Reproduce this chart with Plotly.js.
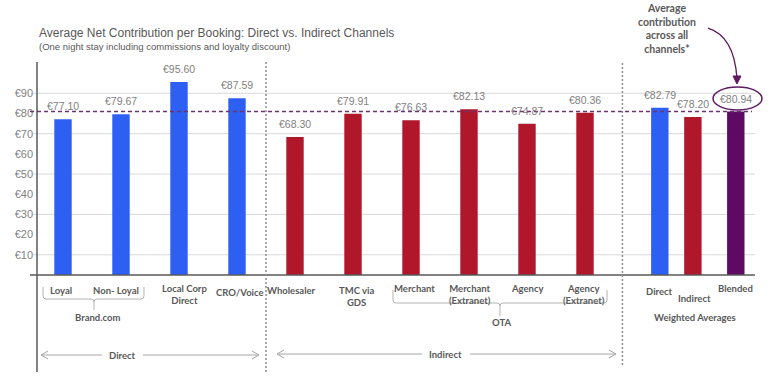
<!DOCTYPE html>
<html>
<head>
<meta charset="utf-8">
<script src="https://cdn.plot.ly/plotly-3.0.1.min.js"></script>
<style>html,body{margin:0;padding:0;background:#fff;}#chart{width:780px;height:386px;}</style>
</head>
<body>
<div id="chart"></div>
<script>
// ---------- data ----------
const categories = ['Loyal', 'Non- Loyal', 'Local Corp<br>Direct', 'CRO/Voice', 'Wholesaler', 'TMC via<br>GDS',
  'Merchant', 'Merchant<br>(Extranet)', 'Agency', 'Agency<br>(Extranet)', 'Direct', 'Indirect', 'Blended'];
const values = [77.10, 79.67, 95.60, 87.59, 68.30, 79.91, 76.63, 82.13, 74.87, 80.36, 82.79, 78.20, 80.94];
const channelType = ['Direct', 'Direct', 'Direct', 'Direct', 'Indirect', 'Indirect', 'Indirect', 'Indirect',
  'Indirect', 'Indirect', 'Direct', 'Indirect', 'Blended'];
const yTicks = [10, 20, 30, 40, 50, 60, 70, 80, 90];
const gridTicks = [10, 30, 50, 70, 90];
const title = 'Average Net Contribution per Booking: Direct vs. Indirect Channels';
const subtitle = '(One night stay including commissions and loyalty discount)';
const callout = 'Average<br>contribution<br>across all<br>channels*';

// ---------- layout helpers (positions / styles) ----------
const slots = [0, 1, 2, 3, 4, 5, 6, 7, 8, 9, 10.29, 10.86, 11.6];
const labelDrop = [8, 8, 6, 10, 8, 8, 6, 6, 6, 6, 9, 16, 6];
const labelShift = [-2, -5, 5, 3, -4, 3, 3, 1, 0, -1, 0, 2, 0];
const colorMap = {Direct: '#2d5ff2', Indirect: '#b0172b', Blended: '#5e0a62'};
const PL = 37, PW = 718, PT = 62, PH = 213;
const px = X => (X - PL) / PW;
const py = Y => (PT + PH - Y) / PH;
const P = (X, Y) => px(X).toFixed(4) + ',' + py(Y).toFixed(4);
const gray = '#595959', lightGray = '#7f7f7f', purple = '#5e1a62';
const labelFont = {family: 'Lato, "Open Sans", sans-serif', size: 9.5, color: gray, weight: 700};
const valueFont = {family: '"Liberation Sans Narrow", "Liberation Sans", Arial, sans-serif', size: 10.5, color: lightGray};

const trace = {
  type: 'bar',
  x: slots,
  y: values,
  width: 0.3,
  marker: {color: channelType.map(t => colorMap[t])},
  hoverinfo: 'skip'
};

const shapes = [];
gridTicks.forEach(v => shapes.push({type: 'line', xref: 'paper', yref: 'y', x0: px(33), x1: 1, y0: v, y1: v,
  line: {color: '#d9d9d9', width: 1}, layer: 'below'}));
// axes
shapes.push({type: 'line', xref: 'paper', yref: 'paper', x0: px(30), x1: px(755), y0: 0, y1: 0, line: {color: gray, width: 1.5}});
shapes.push({type: 'line', xref: 'paper', yref: 'paper', x0: 0, x1: 0, y0: py(372), y1: 1, line: {color: gray, width: 1.5}});
// blended average dashed line
shapes.push({type: 'line', xref: 'paper', yref: 'y', x0: px(30), x1: px(752), y0: values[12], y1: values[12],
  line: {color: '#6b3470', width: 1.5, dash: '4px,3px'}});
// group separators
shapes.push({type: 'line', xref: 'x', yref: 'paper', x0: (slots[3] + slots[4]) / 2, x1: (slots[3] + slots[4]) / 2,
  y0: py(372), y1: 1, line: {color: '#8c8c8c', width: 1.5, dash: '2px,2px'}});
shapes.push({type: 'line', xref: 'x', yref: 'paper', x0: (slots[9] + slots[10]) / 2, x1: (slots[9] + slots[10]) / 2,
  y0: py(365), y1: 1, line: {color: '#8c8c8c', width: 1.5, dash: '2px,2px'}});
// braces
function brace(l, r, top, bot, mid, tip) {
  return 'M ' + P(l, top) + ' L ' + P(l, bot - 3) + ' Q ' + P(l, bot) + ' ' + P(l + 3, bot) +
    ' L ' + P(mid - 3, bot) + ' Q ' + P(mid, bot) + ' ' + P(mid, bot + 3) + ' L ' + P(mid, tip) +
    ' M ' + P(mid, bot + 3) + ' Q ' + P(mid, bot) + ' ' + P(mid + 3, bot) +
    ' L ' + P(r - 3, bot) + ' Q ' + P(r, bot) + ' ' + P(r, bot - 3) + ' L ' + P(r, top);
}
shapes.push({type: 'path', xref: 'paper', yref: 'paper', path: brace(43, 144, 287, 299, 94, 310), line: {color: '#b3b3b3', width: 1}});
shapes.push({type: 'path', xref: 'paper', yref: 'paper', path: brace(393, 607, 290, 303, 500, 316), line: {color: '#b3b3b3', width: 1}});
// span arrows
function span(l, r, y, head) {
  let s = 'M ' + P(l, y) + ' L ' + P(r, y);
  if (head === 'l') s += ' M ' + P(l + 7, y - 4) + ' L ' + P(l, y) + ' L ' + P(l + 7, y + 4);
  if (head === 'r') s += ' M ' + P(r - 7, y - 4) + ' L ' + P(r, y) + ' L ' + P(r - 7, y + 4);
  return {type: 'path', xref: 'paper', yref: 'paper', path: s, line: {color: '#a6a6a6', width: 1}};
}
shapes.push(span(41, 102, 355, 'l'), span(143, 259, 355, 'r'), span(277, 422, 354, 'l'), span(470, 616, 354, 'r'));
// callout ellipse & curved arrow
shapes.push({type: 'circle', xref: 'paper', yref: 'paper', x0: px(713), x1: px(762), y0: py(110), y1: py(87),
  line: {color: purple, width: 1.5}});
shapes.push({type: 'path', xref: 'paper', yref: 'paper', path: 'M ' + P(708, 28) + ' Q ' + P(734, 36) + ' ' + P(737, 78),
  line: {color: purple, width: 1.3}});
shapes.push({type: 'path', xref: 'paper', yref: 'paper', path: 'M ' + P(733, 76) + ' L ' + P(741, 76) + ' L ' + P(737, 84) + ' Z',
  line: {color: purple, width: 1}, fillcolor: purple});

const annotations = [];
// value labels
values.forEach((v, i) => annotations.push({xref: 'x', yref: 'y', x: slots[i], y: v, yshift: 13, yanchor: 'middle',
  text: '€' + v.toFixed(2), showarrow: false, font: valueFont}));
// category labels
categories.forEach((c, i) => annotations.push({xref: 'x', yref: 'paper', x: slots[i], y: 0, yanchor: 'top',
  yshift: -labelDrop[i], xshift: labelShift[i], text: c, showarrow: false, font: labelFont}));
// group labels
const grp = (t, X, Y) => ({xref: 'paper', yref: 'paper', x: px(X), y: py(Y), xanchor: 'center', yanchor: 'middle',
  text: t, showarrow: false, font: labelFont});
annotations.push(grp('Brand.com', 97, 317), grp('OTA', 501, 322), grp('Weighted Averages', 695, 317),
  grp('Direct', 122, 355), grp('Indirect', 446, 354));
// title, subtitle, callout text
annotations.push({xref: 'paper', yref: 'paper', x: px(37), y: py(33), xanchor: 'left', yanchor: 'middle', text: title,
  showarrow: false, font: {family: '"Liberation Sans", Arial, sans-serif', size: 12, color: gray}});
annotations.push({xref: 'paper', yref: 'paper', x: px(37), y: py(46), xanchor: 'left', yanchor: 'middle', text: subtitle,
  showarrow: false, font: {family: '"Liberation Sans", Arial, sans-serif', size: 9.5, color: gray}});
annotations.push({xref: 'paper', yref: 'paper', x: px(667), y: py(0), xanchor: 'center', yanchor: 'top', text: callout,
  showarrow: false, font: {family: 'Lato, sans-serif', size: 10.5, color: gray, weight: 700}});

const layout = {
  width: 780, height: 386,
  margin: {l: PL, r: 780 - PL - PW, t: PT, b: 386 - PT - PH, pad: 0},
  paper_bgcolor: '#ffffff', plot_bgcolor: '#ffffff',
  showlegend: false,
  xaxis: {range: [(PL - 63) / 58, (PL + PW - 63) / 58], showticklabels: false, showgrid: false, zeroline: false,
    showline: false, ticks: '', fixedrange: true},
  yaxis: {range: [0, 105.5], tickvals: yTicks, ticktext: yTicks.map(v => '€' + v), showgrid: false, zeroline: false,
    showline: false, ticks: '', ticklabelstandoff: 3,
    tickfont: {family: '"Liberation Sans Narrow", "Liberation Sans", Arial, sans-serif', size: 11, color: lightGray},
    fixedrange: true},
  shapes: shapes,
  annotations: annotations
};

Plotly.newPlot('chart', [trace], layout, {displayModeBar: false, staticPlot: true});
</script>
</body>
</html>
